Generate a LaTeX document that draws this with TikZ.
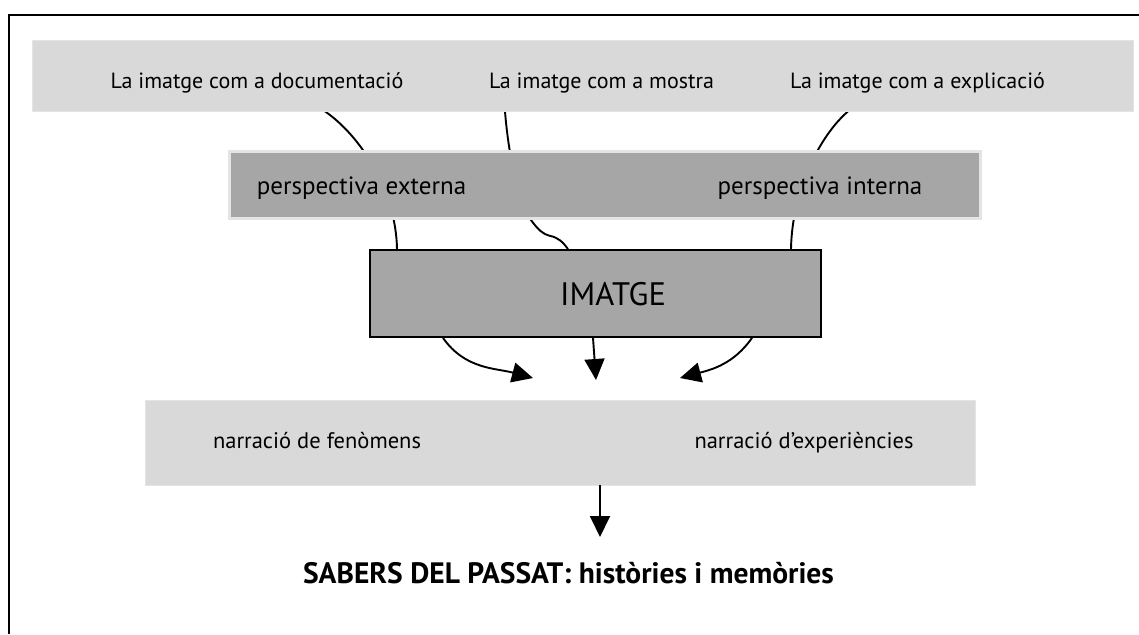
\documentclass[tikz,border=0pt]{standalone}
\usepackage{fontspec}
\setmainfont{PT Sans}
\usetikzlibrary{arrows.meta,backgrounds}
\definecolor{lightbox}{HTML}{D9D9D9}
\definecolor{darkbox}{HTML}{A6A6A6}
\definecolor{edgegray}{HTML}{E4E4E4}
\begin{document}
\begin{tikzpicture}[x=1pt,y=-1pt,
  band/.style={rectangle, fill=lightbox, draw=edgegray, line width=0.8pt, inner sep=0pt},
  perspbox/.style={rectangle, fill=darkbox, draw=edgegray, line width=2.5pt, inner sep=0pt},
  imgbox/.style={rectangle, fill=darkbox, draw=black, line width=1.8pt, inner sep=0pt},
  txt/.style={anchor=base, inner sep=0pt, font=\fontsize{22}{26}\selectfont},
  ptxt/.style={txt, font=\fontsize{25}{30}\selectfont},
  ntxt/.style={txt, font=\fontsize{22.5}{27}\selectfont},
  link/.style={line width=1.9pt},
  flow/.style={line width=1.9pt, -{Triangle[length=21pt,width=20pt]}},
]
\useasboundingbox (0,0) rectangle (1139,634);
\draw[line width=2pt] (1139,15) -- (9,15) -- (9,634);

\node[band, minimum width=1101pt, minimum height=71pt] (top) at (582.5,75.5) {};
\node[txt] (doc) at (257,88) {La imatge com a documentació};
\node[txt] (mos) at (601.5,88) {La imatge com a mostra};
\node[txt] (exp) at (917.5,88) {La imatge com a explicació};

\node[perspbox, minimum width=751pt, minimum height=67pt] (persp) at (605,185) {};
\node[ptxt] (ext) at (361.5,194) {perspectiva externa};
\node[ptxt] (int) at (820,194) {perspectiva interna};

\node[imgbox, minimum width=451pt, minimum height=87pt] (img) at (595.5,293.5) {};
\node[txt, font=\fontsize{32.5}{38}\selectfont] (imgt) at (613,305) {IMATGE};

\node[band, minimum width=830pt, minimum height=85pt] (narr) at (560,442.5) {};
\node[ntxt] (fen) at (317,448) {narració de fenòmens};
\node[ntxt] (expe) at (804,448) {narració d’experiències};

\node[txt, font=\bfseries\fontsize{29.5}{34}\selectfont] (sab) at (568.5,583) {SABERS DEL PASSAT: històries i memòries};

\coordinate (tipL) at (533,378);
\coordinate (tipM) at (596,380);
\coordinate (tipR) at (680,378);
\coordinate (tipB) at (600,537);

\begin{scope}[on background layer]
\draw[link] ([xshift=-257.5pt]top.south) .. controls +(35,24) and +(-1,-59) .. ([xshift=-198.5pt]img.north);
\draw[link] ([xshift=265.5pt]top.south) .. controls +(-28,24) and +(1,-59) .. ([xshift=195.5pt]img.north);
\draw[link] ([xshift=-77.5pt]top.south) .. controls +(3,39) and +(-14,-16) .. ++(27,110)
  .. controls +(6,8) and +(-7,-1.5) .. ++(18,14.5)
  .. controls +(8,1.5) and +(-5,-7) .. ([xshift=-27.5pt]img.north);
\end{scope}

\draw[flow] ([xshift=-152.5pt]img.south) to[out=-55,in=165] (tipL);
\draw[flow] ([xshift=-2.5pt]img.south) -- (tipM);
\draw[flow] ([xshift=156.5pt]img.south) to[out=-125,in=15] (tipR);
\draw[flow] ([xshift=40pt]narr.south) -- (tipB);
\end{tikzpicture}
\end{document}
